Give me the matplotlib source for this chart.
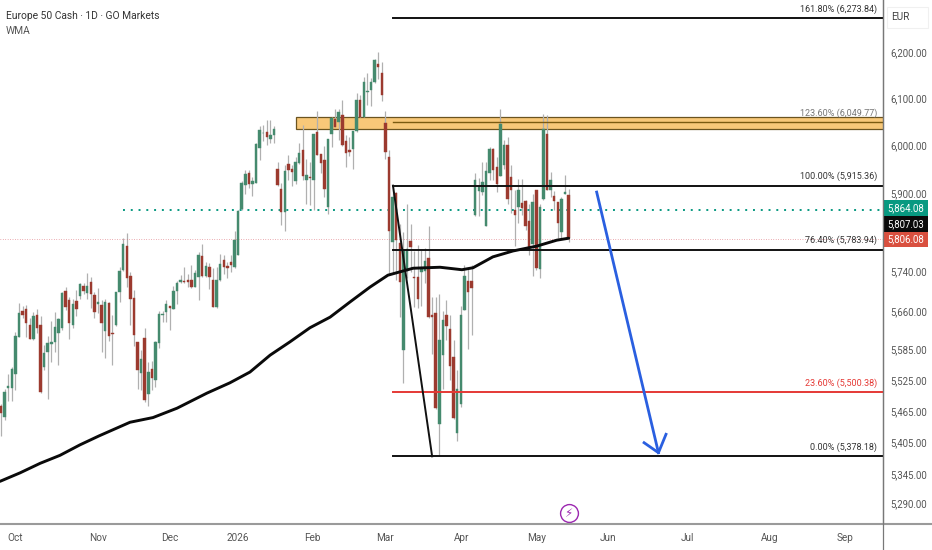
import sys
import matplotlib
matplotlib.use('Agg')
import matplotlib.pyplot as plt
from matplotlib.patches import Rectangle
from matplotlib.ticker import NullLocator

opens = [5474, 5454, 5509, 5509, 5537, 5609, 5660, 5665, 5632, 5604,
         5652, 5632, 5550, 5579, 5594, 5599, 5617, 5626, 5700, 5682,
         5632, 5680, 5690, 5710, 5697, 5719, 5693, 5674, 5672, 5621,
         5677, 5617, 5632, 5699, 5742, 5791, 5731, 5686, 5599, 5539,
         5606, 5498, 5546, 5525, 5597, 5653, 5659, 5670, 5665, 5701,
         5719, 5720, 5722, 5723, 5709, 5729, 5771, 5731, 5748, 5723,
         5668, 5723, 5762, 5750, 5759, 5748, 5773, 5867, 5916, 5942,
         5919, 5921, 5994, 6025, 6028, 6014, 6022, 5951, 5908, 5861,
         5960, 5950, 5925, 5962, 5989, 5928, 5934, 5928, 6028, 5981,
         5968, 5871, 6024, 6056, 6050, 6064, 6009, 5991, 5993, 6031,
         6096, 6059, 6113, 6118, 6134, 6175, 6155, 6047, 5975, 5800,
         5901, 5797, 5583, 5741, 5801, 5728, 5729, 5739, 5741, 5767,
         5652, 5657, 5440, 5573, 5653, 5625, 5569, 5422, 5478, 5662,
         5721, 5720, 5854, 5905, 5902, 5832, 5942, 5992, 5954, 5935,
         5958, 6001, 5934, 5864, 5871, 5880, 5883, 5842, 5795, 5906,
         5744, 5888, 6024, 5907, 5894, 5881, 5820, 5899, 5895]
closes = [5461, 5502, 5513, 5545, 5611, 5657, 5653, 5636, 5605, 5651,
          5626, 5501, 5578, 5596, 5599, 5629, 5644, 5697, 5669, 5637,
          5675, 5664, 5714, 5701, 5710, 5695, 5658, 5679, 5637, 5679,
          5611, 5615, 5698, 5741, 5795, 5726, 5684, 5612, 5544, 5565,
          5485, 5541, 5529, 5599, 5655, 5655, 5674, 5667, 5700, 5716,
          5722, 5718, 5719, 5708, 5736, 5773, 5731, 5751, 5729, 5669,
          5723, 5755, 5748, 5746, 5752, 5803, 5863, 5920, 5940, 5919,
          5924, 6002, 6033, 6026, 6018, 6021, 6034, 5916, 5860, 5945,
          5948, 5944, 5964, 5983, 5936, 5937, 5932, 6023, 5980, 5962,
          5908, 6014, 6057, 6038, 6070, 6000, 5984, 5986, 6030, 6096,
          6059, 6134, 6116, 6134, 6182, 6168, 6107, 5985, 5821, 5892,
          5803, 5719, 5782, 5786, 5790, 5726, 5685, 5746, 5761, 5649,
          5649, 5471, 5603, 5642, 5631, 5552, 5452, 5507, 5653, 5731,
          5699, 5707, 5927, 5914, 5922, 5946, 5992, 5947, 5918, 6044,
          6001, 5887, 5906, 5855, 5906, 5869, 5832, 5788, 5882, 5746,
          5871, 6035, 5907, 5928, 5883, 5838, 5887, 5902, 5807]
highs = [5479, 5508, 5536, 5550, 5619, 5677, 5671, 5672, 5646, 5659,
         5665, 5651, 5593, 5611, 5641, 5658, 5647, 5699, 5709, 5689,
         5685, 5702, 5716, 5717, 5736, 5729, 5699, 5707, 5682, 5685,
         5679, 5652, 5699, 5749, 5807, 5818, 5739, 5703, 5599, 5584,
         5626, 5560, 5562, 5601, 5661, 5660, 5682, 5670, 5711, 5721,
         5732, 5749, 5735, 5753, 5743, 5778, 5795, 5759, 5756, 5746,
         5749, 5775, 5772, 5759, 5773, 5821, 5864, 5924, 5947, 5947,
         5934, 6004, 6041, 6042, 6054, 6054, 6041, 5964, 5920, 5958,
         5979, 5958, 5975, 6004, 6042, 5971, 5965, 6024, 6073, 5982,
         5998, 6014, 6060, 6078, 6078, 6097, 6022, 6017, 6031, 6112,
         6107, 6146, 6154, 6143, 6184, 6199, 6179, 6073, 5991, 5917,
         5903, 5837, 5820, 5877, 5837, 5780, 5793, 5783, 5788, 5832,
         5689, 5688, 5695, 5661, 5682, 5652, 5603, 5544, 5670, 5753,
         5746, 5753, 5941, 5932, 5965, 5965, 5997, 5995, 5976, 6078,
         6011, 6017, 5958, 5906, 5930, 5930, 5885, 5878, 5897, 5906,
         5878, 6066, 6064, 5944, 5905, 5881, 5892, 5937, 5909]
lows = [5416, 5447, 5484, 5484, 5505, 5608, 5646, 5609, 5604, 5603,
        5617, 5499, 5544, 5488, 5560, 5580, 5553, 5623, 5662, 5605,
        5626, 5651, 5685, 5695, 5685, 5667, 5646, 5656, 5580, 5568,
        5601, 5554, 5630, 5679, 5741, 5708, 5632, 5591, 5508, 5506,
        5482, 5475, 5506, 5511, 5588, 5639, 5639, 5622, 5664, 5675,
        5717, 5717, 5709, 5707, 5708, 5682, 5729, 5729, 5704, 5668,
        5666, 5721, 5735, 5727, 5738, 5747, 5772, 5865, 5898, 5911,
        5894, 5920, 5968, 6008, 6000, 6004, 6004, 5915, 5834, 5821,
        5928, 5914, 5918, 5960, 5927, 5877, 5875, 5865, 5980, 5941,
        5892, 5856, 5996, 6038, 6011, 5998, 5955, 5978, 5950, 6029,
        6059, 6059, 6085, 6084, 6132, 6141, 6095, 5971, 5736, 5737,
        5722, 5649, 5518, 5726, 5739, 5669, 5666, 5670, 5716, 5646,
        5576, 5469, 5378, 5508, 5603, 5525, 5450, 5408, 5472, 5662,
        5586, 5613, 5852, 5852, 5895, 5832, 5928, 5927, 5902, 5935,
        5951, 5878, 5858, 5791, 5838, 5854, 5824, 5773, 5731, 5743,
        5726, 5886, 5906, 5892, 5864, 5807, 5805, 5898, 5800]

wma_bars = [-0.3, 5.3, 10.9, 16.4, 22, 27.3, 35.9, 42.3, 49, 57.3, 63.7, 69.3,
            74.9, 80.4, 86, 91.6, 97.1, 102.7, 107.7, 114.7, 122.2, 128.3,
            131.4, 136.9, 142.5, 149.2, 154.7, 158]
wma_vals = [5331, 5347, 5365, 5380, 5400, 5417, 5443, 5452, 5470, 5499, 5519,
            5540, 5573, 5599, 5627, 5648, 5678, 5708, 5732, 5746, 5748, 5743,
            5747, 5769, 5781, 5791, 5803, 5807]

fib_levels = [6273.84, 6049.77, 5915.36, 5783.94, 5500.38, 5378.18]
fib_pcts = ['161.80%', '123.60%', '100.00%', '76.40%', '23.60%', '0.00%']
fib_colors = ['#111111', '#7a5a10', '#111111', '#111111', '#e53935', '#111111']
fib_start = 109.1

trend_bars = [109.1, 120]
trend_vals = [5915.36, 5378.18]
zone_start = 82.1
zone_low, zone_high = 6034, 6059
high_line, high_start = 5864.08, 34
close_line = 5806.08

arrow_bars = [165.8, 183]
arrow_vals = [5902, 5385]
head_bars = [179, 183, 185.1]
head_vals = [5404, 5385, 5420]
event_bar, event_price = 158, 5272

price_ticks = [6200, 6100, 6000, 5900, 5740, 5660, 5585, 5525, 5465, 5405, 5345, 5290]
month_ticks = [3.9, 27, 47, 66, 86.8, 106.9, 128.3, 149, 169, 191, 214, 235]
month_labels = ['Oct', 'Nov', 'Dec', '2026', 'Feb', 'Mar', 'Apr', 'May', 'Jun', 'Jul', 'Aug', 'Sep']

W, H = 932, 550
PANE_R, PANE_B = 883, 523.5
FONT = ['Roboto', 'DejaVu Sans']


def tag(fig, top, bottom, color, text):
    fig.add_artist(Rectangle((884 / W, 1 - bottom / H), 44 / W, (bottom - top) / H,
                             transform=fig.transFigure, facecolor=color, edgecolor='none'))
    fig.text(906 / W, 1 - (top + bottom) / 2 / H, text, color='white', fontsize=6.9,
             family=FONT, ha='center', va='center')


def main():
    fig = plt.figure(figsize=(W / 100, H / 100), dpi=100, facecolor='white')
    ax = fig.add_axes([0, 1 - PANE_B / H, PANE_R / W, PANE_B / H])
    ax.set_yscale('log')
    ax.set_ylim(5252.6, 6314.5)
    ax.set_xlim(-0.28, 245.5)

    # order zone sits under the candles
    ax.add_patch(Rectangle((zone_start, zone_low), 300, zone_high - zone_low,
                           facecolor='#f8c879', edgecolor='#6b5420', linewidth=0.9, zorder=1))

    bars = list(range(len(opens)))
    ax.vlines(bars, lows, highs, colors='#b0b0b0', linewidth=0.9, zorder=2)
    for i in bars:
        col = '#458a6e' if closes[i] >= opens[i] else '#9c3a2f'
        lo, hi = min(opens[i], closes[i]), max(opens[i], closes[i])
        ax.bar(i, hi - lo, bottom=lo, width=0.68, color=col, edgecolor=col, linewidth=0.3, zorder=3)

    ax.axhline(close_line, color='#d9606a', linewidth=0.5, linestyle=(0, (1, 2.5)), zorder=2)
    ax.plot([high_start, 300], [high_line, high_line], color='#089981', linewidth=1.4,
            linestyle=(0, (1, 3)), zorder=2)

    ax.plot(wma_bars, wma_vals, color='#0a0a0a', linewidth=2.1, zorder=5,
            solid_capstyle='round')

    for level, pct, col in zip(fib_levels, fib_pcts, fib_colors):
        lw = 1.0 if pct == '123.60%' else 1.4
        ax.plot([fib_start, 300], [level, level], color=col, linewidth=lw, zorder=4)
        ax.annotate('%s (%s)' % (pct, format(level, ',.2f')), (877 / PANE_R, level),
                    xycoords=ax.get_yaxis_transform(), xytext=(0, 3), textcoords='offset points',
                    ha='right', va='bottom', fontsize=6.5, family=FONT,
                    color='#e53935' if pct == '23.60%' else ('#777777' if pct == '123.60%' else '#333333'),
                    zorder=6)

    ax.plot(trend_bars, trend_vals, color='#111111', linewidth=1.4, zorder=4)
    ax.plot(arrow_bars, arrow_vals, color='#2a5fe0', linewidth=2.0, zorder=6)
    ax.plot(head_bars, head_vals, color='#2a5fe0', linewidth=2.0, zorder=6)

    ax.scatter([event_bar], [event_price], s=165, facecolor='white', edgecolor='#9c27b0',
               linewidth=1.0, zorder=6)
    ax.text(event_bar, event_price, '\u26a1', color='#9c27b0', fontsize=8.5, ha='center',
            va='center', family='DejaVu Sans', zorder=7)

    ax.yaxis.tick_right()
    ax.yaxis.set_minor_locator(NullLocator())
    ax.set_yticks(price_ticks)
    ax.set_yticklabels([format(p, ',.2f') for p in price_ticks], family=FONT, fontsize=6.9, color='#555555')
    ax.tick_params(axis='y', length=0, pad=5)
    ax.set_xticks(month_ticks)
    ax.set_xticklabels(month_labels, family=FONT, fontsize=7.2, color='#555555')
    ax.tick_params(axis='x', length=0, pad=7)
    for side in ['top', 'left', 'bottom']:
        ax.spines[side].set_visible(False)
    ax.spines['right'].set_color('#787878')
    ax.spines['right'].set_linewidth(0.9)

    # axis lines run past the pane to the figure edges
    fig.add_artist(plt.Line2D([0, 1], [1 - PANE_B / H] * 2, color='#9a9a9a', linewidth=1.5))
    fig.add_artist(plt.Line2D([PANE_R / W] * 2, [0, 1], color='#787878', linewidth=0.9))

    tag(fig, 200, 216, '#089981', '5,864.08')
    tag(fig, 216, 232, '#0a0a0a', '5,807.03')
    tag(fig, 232, 247, '#d9503f', '5,806.08')

    fig.add_artist(Rectangle((887 / W, 1 - 28 / H), 41 / W, 21 / H, transform=fig.transFigure,
                             facecolor='white', edgecolor='#f0f0f0', linewidth=0.8))
    fig.text(900 / W, 1 - 17.5 / H, 'EUR', color='#444444', fontsize=7.2, family=FONT,
             ha='center', va='center')
    fig.text(6 / W, 1 - 16 / H, 'Europe 50 Cash \u00b7 1D \u00b7 GO Markets', color='#333333',
             fontsize=7.4, family=FONT, ha='left', va='center')
    fig.text(6 / W, 1 - 31 / H, 'WMA', color='#555555', fontsize=7.4, family=FONT, ha='left', va='center')

    fig.savefig('out.png', dpi=100)
    return 0


if __name__ == '__main__':
    sys.exit(main())
